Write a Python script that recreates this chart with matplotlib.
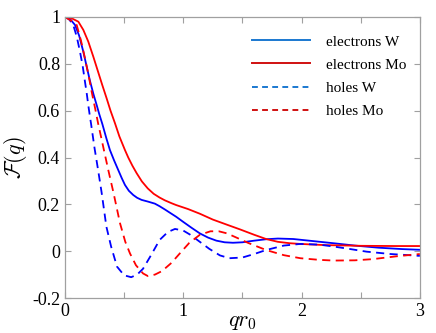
import numpy as np
import matplotlib
matplotlib.use('Agg')
import matplotlib.pyplot as plt
from matplotlib.lines import Line2D
from matplotlib.ticker import MultipleLocator, FuncFormatter

plt.rcParams['font.family'] = ['Liberation Serif', 'DejaVu Serif']
plt.rcParams['mathtext.fontset'] = 'cm'
plt.rcParams['axes.unicode_minus'] = False

# form factor values (q r0, F)
q_el_w = [0, 0.04, 0.085, 0.12, 0.155, 0.185, 0.211, 0.24, 0.268, 0.29, 0.316, 0.35, 0.38, 0.415,
          0.45, 0.48, 0.507, 0.54, 0.577, 0.61, 0.648, 0.7, 0.76, 0.8, 0.845, 0.9, 0.94, 1.0,
          1.07, 1.14, 1.21, 1.28, 1.35, 1.42, 1.5, 1.6, 1.7, 1.8, 1.93, 2.1, 2.27, 2.45, 2.65,
          2.85, 3.0]
f_el_w = [1, 0.993, 0.966, 0.92, 0.852, 0.785, 0.728, 0.672, 0.624, 0.585, 0.543, 0.482, 0.432, 0.388,
          0.347, 0.312, 0.283, 0.258, 0.24, 0.228, 0.219, 0.212, 0.203, 0.192, 0.178, 0.16, 0.147,
          0.125, 0.1, 0.076, 0.058, 0.045, 0.038, 0.036, 0.038, 0.045, 0.051, 0.054, 0.052, 0.043,
          0.034, 0.024, 0.015, 0.009, 0.006]

q_el_mo = [0, 0.05, 0.113, 0.155, 0.197, 0.24, 0.28, 0.315, 0.352, 0.385, 0.423, 0.46, 0.507, 0.535,
           0.57, 0.606, 0.65, 0.7, 0.75, 0.8, 0.845, 0.9, 0.94, 1.04, 1.14, 1.25, 1.37, 1.48, 1.6,
           1.7, 1.8, 1.9, 1.99, 2.2, 2.5, 2.8, 3.0]
f_el_mo = [1, 0.996, 0.98, 0.945, 0.895, 0.83, 0.766, 0.71, 0.653, 0.6, 0.546, 0.49, 0.432, 0.4,
           0.365, 0.333, 0.298, 0.268, 0.245, 0.229, 0.217, 0.205, 0.197, 0.18, 0.16, 0.135, 0.113,
           0.093, 0.07, 0.052, 0.04, 0.034, 0.031, 0.026, 0.023, 0.022, 0.022]

q_h_w = [0, 0.035, 0.07, 0.1, 0.127, 0.15, 0.169, 0.185, 0.197, 0.211, 0.22, 0.25, 0.28, 0.31, 0.35,
         0.39, 0.44, 0.5, 0.56, 0.61, 0.66, 0.73, 0.8, 0.87, 0.93, 1.0, 1.06, 1.14, 1.22, 1.31,
         1.39, 1.5, 1.6, 1.7, 1.85, 1.99, 2.15, 2.27, 2.4, 2.55, 2.75, 3.0]
f_h_w = [1, 0.99, 0.966, 0.915, 0.852, 0.79, 0.724, 0.67, 0.624, 0.575, 0.546, 0.44, 0.347, 0.25,
         0.105, 0.02, -0.066, -0.103, -0.111, -0.1, -0.075, -0.015, 0.048, 0.082, 0.095, 0.088,
         0.07, 0.04, 0.01, -0.018, -0.03, -0.027, -0.012, 0.005, 0.024, 0.031, 0.028, 0.02, 0.01,
         -0.002, -0.012, -0.02]

q_h_mo = [0, 0.05, 0.099, 0.135, 0.169, 0.2, 0.226, 0.255, 0.28, 0.3, 0.33, 0.366, 0.41, 0.465,
          0.51, 0.55, 0.6, 0.66, 0.7, 0.76, 0.82, 0.9, 0.97, 1.05, 1.14, 1.23, 1.3, 1.37, 1.45,
          1.55, 1.7, 1.85, 1.99, 2.15, 2.27, 2.45, 2.6, 2.8, 3.0]
f_h_mo = [1, 0.985, 0.966, 0.9, 0.824, 0.75, 0.68, 0.61, 0.546, 0.5, 0.43, 0.347, 0.25, 0.12,
          0.04, -0.01, -0.06, -0.095, -0.106, -0.1, -0.085, -0.05, -0.01, 0.035, 0.07, 0.085,
          0.085, 0.076, 0.058, 0.035, 0.005, -0.017, -0.03, -0.037, -0.04, -0.039, -0.034,
          -0.022, -0.012]

labels = ['electrons W', 'electrons Mo', 'holes W', 'holes Mo']

fig = plt.figure(figsize=(4.36, 3.33), dpi=100)
ax = fig.add_axes([0.149, 0.105, 0.814, 0.844])

lw = 1.3
ax.plot(q_el_w, f_el_w, color='#0000ff', lw=lw)
ax.plot(q_el_mo, f_el_mo, color='#ff0000', lw=lw)
ax.plot(q_h_w, f_h_w, color='#0000ff', lw=lw, dashes=(4.5, 3))
ax.plot(q_h_mo, f_h_mo, color='#ff0000', lw=lw, dashes=(4.5, 3))

ax.set_xlim(0, 3)
ax.set_ylim(-0.2, 1)
ax.xaxis.set_major_locator(MultipleLocator(1))
ax.xaxis.set_minor_locator(MultipleLocator(0.5))
ax.yaxis.set_major_locator(MultipleLocator(0.2))
ax.yaxis.set_major_formatter(FuncFormatter(lambda v, p: '%g' % round(v, 2)))
ax.tick_params(which='both', direction='in', top=True, right=True, color='#a0a0a0',
               labelsize=13, length=4, width=0.8)
for s in ax.spines.values():
    s.set_color('#a0a0a0')
    s.set_linewidth(0.9)

ax.set_xlabel('$qr_0$', fontsize=16, labelpad=-5)
ax.set_ylabel(r'$\mathcal{F}(q)$', fontsize=16, labelpad=2)

# legend handles drawn in slightly different shades like the original
handles = [Line2D([], [], color='#1a78d0', lw=1.4),
           Line2D([], [], color='#d01010', lw=1.4),
           Line2D([], [], color='#1a78d0', lw=1.4, dashes=(3, 2.2)),
           Line2D([], [], color='#d01010', lw=1.4, dashes=(3, 2.2))]
ax.legend(handles, labels, loc='upper right', frameon=False, fontsize=11,
          handlelength=3.8, handletextpad=1.0, labelspacing=0.62,
          bbox_to_anchor=(1.0, 0.985))

fig.savefig('out.png', dpi=100)
